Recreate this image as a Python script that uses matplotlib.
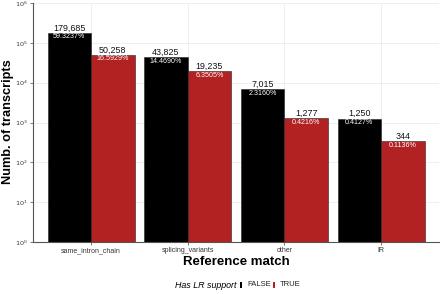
import matplotlib
matplotlib.use("Agg")
import matplotlib.pyplot as plt
import numpy as np
from matplotlib.patches import Rectangle

plt.rcParams['font.family'] = ['Liberation Sans', 'DejaVu Sans']

categories = ["same_intron_chain", "splicing_variants", "other", "IR"]
false_counts = [179685, 43825, 7015, 1250]
true_counts = [50258, 19235, 1277, 344]
false_pct = ["59.3237%", "14.4690%", "2.3160%", "0.4127%"]
true_pct = ["16.5929%", "6.3505%", "0.4216%", "0.1136%"]
series_names = ["FALSE", "TRUE"]
colors = ["#000000", "#B22222"]

W, H = 440, 294
fig = plt.figure(figsize=(4.4, 2.94), dpi=100)
ax = fig.add_axes([33/W, 1-242/H, (439-33)/W, (242-3)/H])

x = np.arange(len(categories))
w = 0.45
grid_c = "#E8EEF0"
ax.set_axisbelow(True)
ax.set_yscale('log')
ax.set_ylim(1, 1e6)
ax.set_xlim(-0.6, len(categories) - 0.4)
ax.grid(True, which='major', color=grid_c, linewidth=0.6)
ax.minorticks_off()

for i, (vals, pcts, col) in enumerate([(false_counts, false_pct, colors[0]), (true_counts, true_pct, colors[1])]):
    xs = x + (i - 0.5) * w
    ax.bar(xs, vals, width=w, bottom=1, color=col, edgecolor="#222222", linewidth=0.4)
    for xi, v, p in zip(xs, vals, pcts):
        ax.text(xi, v * 1.02, f"{v:,}", ha='center', va='bottom', fontsize=6.4, color="#111111")
        ax.text(xi, v * 0.96, p, ha='center', va='top', fontsize=5.1, color="white")

ax.set_xticks(x)
ax.set_xticklabels(categories, fontsize=5, color="#333333")
ax.set_yticks([10.0**k for k in range(7)])
ax.set_yticklabels([f"$10^{k}$" for k in range(7)], fontsize=4.6, color="#333333")
ax.tick_params(axis='both', length=2.5, width=0.5, color="#444444", pad=1.2)
for s in ['top', 'right']:
    ax.spines[s].set_visible(False)
for s in ['left', 'bottom']:
    ax.spines[s].set_color("#555555")
    ax.spines[s].set_linewidth(0.8)

fig.text(8/W, 1-122/H, "Numb. of transcripts", rotation=90, ha='center', va='center',
         fontsize=9.2, fontweight='bold')
fig.text((33+439)/2/W, 1-262/H, "Reference match", ha='center', va='center',
         fontsize=9.5, fontweight='bold')

# legend (manual, ggplot-like bottom legend)
ly = 1 - 285/H
fig.text(236/W, ly, "Has LR support", ha='right', va='center', fontsize=6.4, style='italic')
key_x = [240, 273]
for kx, c, name in zip(key_x, colors, series_names):
    fig.patches.append(Rectangle((kx/W, ly - 3/H), 2.4/W, 6.5/H, transform=fig.transFigure,
                                 facecolor=c, edgecolor='none'))
    fig.text((kx + 7)/W, ly, name, ha='left', va='center', fontsize=5.5, color="#222222")

fig.savefig("out.png", dpi=100)
